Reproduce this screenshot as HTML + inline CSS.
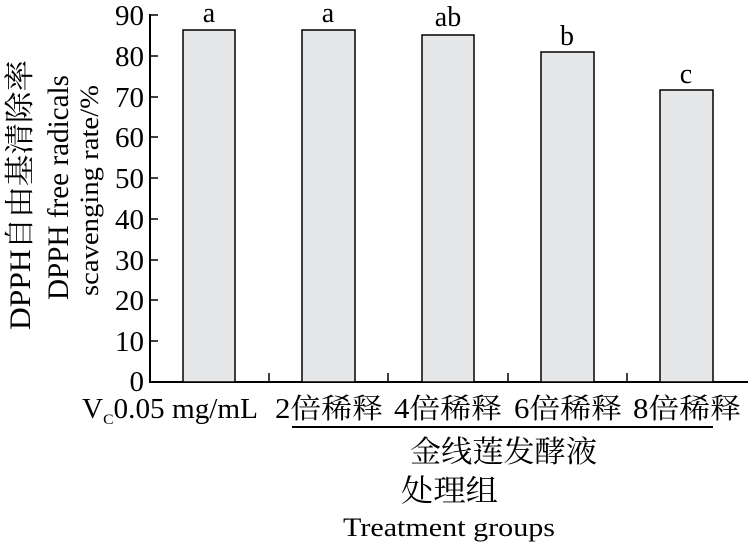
<!DOCTYPE html><html><head><meta charset="utf-8"><style>
body{margin:0;background:#fff}
text{font-family:"Liberation Serif","Noto Serif CJK SC",serif;fill:#000}
</style></head><body>
<svg width="750" height="546" viewBox="0 0 750 546" xmlns="http://www.w3.org/2000/svg">
<g stroke="#000" stroke-width="2" fill="none">
<line x1="150" y1="14" x2="150" y2="383"/>
<line x1="149" y1="382" x2="748" y2="382"/>
<line x1="292" y1="427" x2="713" y2="427"/>
</g>
<g stroke="#000" stroke-width="1.5">
<line x1="150" y1="15" x2="158" y2="15"/><line x1="150" y1="56" x2="158" y2="56"/>
<line x1="150" y1="97" x2="158" y2="97"/><line x1="150" y1="137" x2="158" y2="137"/>
<line x1="150" y1="178" x2="158" y2="178"/><line x1="150" y1="219" x2="158" y2="219"/>
<line x1="150" y1="260" x2="158" y2="260"/><line x1="150" y1="300" x2="158" y2="300"/>
<line x1="150" y1="341" x2="158" y2="341"/>
<line x1="269" y1="382" x2="269" y2="373"/><line x1="388" y1="382" x2="388" y2="373"/>
<line x1="508" y1="382" x2="508" y2="373"/><line x1="627" y1="382" x2="627" y2="373"/>
</g>
<g fill="#e6e7e9" stroke="#000" stroke-width="1.5">
<rect x="183" y="30" width="52" height="352"/>
<rect x="302" y="30" width="53" height="352"/>
<rect x="422" y="35" width="52" height="347"/>
<rect x="541" y="52" width="53" height="330"/>
<rect x="660" y="90" width="53" height="292"/>
</g>
<g font-size="29" text-anchor="end">
<text x="144" y="25">90</text><text x="144" y="66">80</text><text x="144" y="107">70</text>
<text x="144" y="147">60</text><text x="144" y="188">50</text><text x="144" y="229">40</text>
<text x="144" y="270">30</text><text x="144" y="310">20</text><text x="144" y="351">10</text>
<text x="144" y="391">0</text>
</g>
<g font-size="28" text-anchor="middle">
<text x="209" y="22">a</text><text x="328" y="22">a</text><text x="448" y="26">ab</text>
<text x="567" y="45">b</text><text x="686" y="83">c</text>
</g>
<g font-size="28">
<text x="82" y="418" textLength="176" lengthAdjust="spacingAndGlyphs">V<tspan font-size="15" dy="6">C</tspan><tspan dy="-6">0.05 mg/mL</tspan></text>
<text x="275" y="418" textLength="108" lengthAdjust="spacingAndGlyphs">2倍稀释</text>
<text x="394" y="418" textLength="108" lengthAdjust="spacingAndGlyphs">4倍稀释</text>
<text x="514" y="418" textLength="108" lengthAdjust="spacingAndGlyphs">6倍稀释</text>
<text x="633" y="418" textLength="108" lengthAdjust="spacingAndGlyphs">8倍稀释</text>
</g>
<g>
<text x="410" y="462" font-size="30" textLength="187" lengthAdjust="spacingAndGlyphs">金线莲发酵液</text>
<text x="401" y="501" font-size="30" textLength="97" lengthAdjust="spacingAndGlyphs">处理组</text>
<text x="343" y="536" font-size="26" textLength="212" lengthAdjust="spacingAndGlyphs">Treatment groups</text>
</g>
<g>
<text transform="translate(30,330) rotate(-90)" font-size="30" textLength="270" lengthAdjust="spacingAndGlyphs">DPPH自由基清除率</text>
<text transform="translate(68,300) rotate(-90)" font-size="30" textLength="225" lengthAdjust="spacingAndGlyphs">DPPH free radicals</text>
<text transform="translate(98,296) rotate(-90)" font-size="26" textLength="211" lengthAdjust="spacingAndGlyphs">scavenging rate/%</text>
</g>
</svg>
</body></html>
